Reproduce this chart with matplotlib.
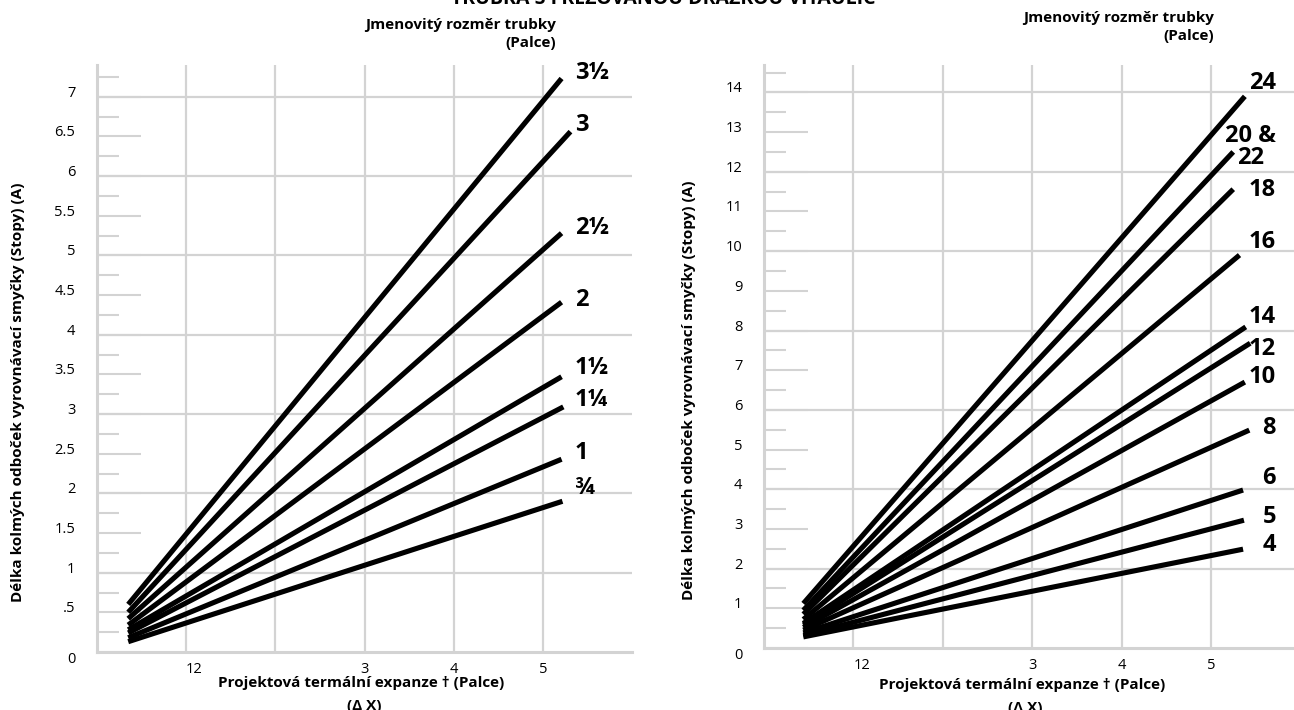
import matplotlib
matplotlib.use('Agg')
import matplotlib.pyplot as plt

plt.rcParams['font.family'] = ['Open Sans', 'DejaVu Sans']

GRID = '#d3d3d3'

# left chart: nominal sizes 3/4" .. 3 1/2" (delta X in, A in ft)
SMALL_SIZES = ['¾', '1', '1¼', '1½', '2', '2½', '3', '3½']
SMALL_X0 = [0.35, 0.35, 0.35, 0.35, 0.35, 0.35, 0.35, 0.35]
SMALL_A0 = [0.13, 0.18, 0.24, 0.28, 0.34, 0.42, 0.50, 0.60]
SMALL_X1 = [5.22, 5.21, 5.23, 5.21, 5.21, 5.21, 5.31, 5.21]
SMALL_A1 = [1.90, 2.43, 3.09, 3.47, 4.41, 5.28, 6.56, 7.23]
SMALL_YTICKS = [0, 0.5, 1, 1.5, 2, 2.5, 3, 3.5, 4, 4.5, 5, 5.5, 6, 6.5, 7]
SMALL_YLABELS = ['0', '.5', '1', '1.5', '2', '2.5', '3', '3.5', '4', '4.5',
                 '5', '5.5', '6', '6.5', '7']

# right chart: nominal sizes 4" .. 24"
LARGE_SIZES = ['4', '5', '6', '8', '10', '12', '14', '16', '18', '20 &\n22', '24']
LARGE_X0 = [0.44, 0.44, 0.44, 0.44, 0.44, 0.44, 0.44, 0.44, 0.44, 0.44, 0.44]
LARGE_A0 = [0.28, 0.32, 0.38, 0.45, 0.52, 0.58, 0.62, 0.72, 0.85, 0.95, 1.12]
LARGE_X1 = [5.36, 5.37, 5.36, 5.43, 5.38, 5.44, 5.39, 5.32, 5.25, 5.25, 5.38]
LARGE_A1 = [2.49, 3.22, 3.98, 5.49, 6.70, 7.68, 8.09, 9.90, 11.56, 12.50, 13.90]
LARGE_YTICKS = list(range(0, 15))
LARGE_YLABELS = [str(v) for v in LARGE_YTICKS]

X_TICKS = [1, 3, 4, 5]
X_TICK_LABELS = ['12', '3', '4', '5']

# label nudges (points, up positive)
SMALL_LABEL_DY = [9.4, 4.3, 5.0, 6.5, 1.4, 3.6, 5.0, 4.3]
LARGE_LABEL_DY = [2.9, 2.2, 8.6, 1.4, 3.6, -4.3, 7.2, 9.4, -0.7, 3.6, 9.4]

XLABEL = 'Projektová termální expanze † (Palce)'
YLABEL = 'Délka kolmých odboček vyrovnávací smyčky (Stopy) (A)'
HEADER = 'Jmenovitý rozměr trubky\n(Palce)'
TITLE = 'TRUBKA S FRÉZOVANOU DRÁŽKOU VITAULIC'


def style_axes(ax, xmax, ymax, yticks, ylabels, minor, hgrid, xpad):
    ax.set_xlim(0, xmax)
    ax.set_ylim(0, ymax)
    for s in ['top', 'right']:
        ax.spines[s].set_visible(False)
    for s in ['left', 'bottom']:
        ax.spines[s].set_color(GRID)
        ax.spines[s].set_linewidth(2.2)
    for v in hgrid:
        ax.axhline(v, color=GRID, lw=1.6, zorder=0)
    for v in range(1, 6):
        ax.axvline(v, color=GRID, lw=1.6, zorder=0)
    ax.set_yticks(yticks)
    ax.set_yticklabels(ylabels)
    ax.set_yticks(minor, minor=True)
    ax.tick_params(axis='y', which='major', direction='in', length=31.7,
                   width=1.5, color=GRID, pad=15.5, labelsize=10.5)
    ax.tick_params(axis='y', which='minor', direction='in', length=15.8,
                   width=1.5, color=GRID)
    for i, lab in enumerate(ax.get_yticklabels()):
        lab.set_va('top' if i == 0 else 'baseline')
    ax.set_xticks(X_TICKS)
    ax.set_xticklabels(X_TICK_LABELS)
    ax.tick_params(axis='x', length=0, pad=xpad, labelsize=10.5)
    ax.get_xticklabels()[0].set_ha('left')


def draw_lines(ax, x0, a0, x1, a1, sizes, dys, label_x, ha):
    for i in range(len(sizes)):
        ax.plot([x0[i], x1[i]], [a0[i], a1[i]], color='black', lw=3.7,
                solid_capstyle='butt', zorder=3)
        ax.annotate(sizes[i], xy=(label_x, a1[i]), xytext=(0, dys[i]),
                    textcoords='offset points', ha=ha, va='center',
                    multialignment='center', fontsize=17, fontweight='bold',
                    linespacing=0.85, annotation_clip=False)


def main():
    fig = plt.figure(figsize=(12.94, 7.10), dpi=100)

    ax1 = fig.add_axes([97 / 1294, 58 / 710, 535 / 1294, 587 / 710])
    style_axes(ax1, 6.0, 7.40, SMALL_YTICKS, SMALL_YLABELS,
               [0.25 + 0.5 * k for k in range(15)], range(1, 8), 7.5)
    draw_lines(ax1, SMALL_X0, SMALL_A0, SMALL_X1, SMALL_A1, SMALL_SIZES,
               SMALL_LABEL_DY, 5.36, 'left')

    ax2 = fig.add_axes([764 / 1294, 62 / 710, 530 / 1294, 583 / 710])
    style_axes(ax2, 5.93, 14.69, LARGE_YTICKS, LARGE_YLABELS,
               [0.5 + k for k in range(15)], range(2, 15, 2), 7)
    draw_lines(ax2, LARGE_X0, LARGE_A0, LARGE_X1, LARGE_A1, LARGE_SIZES,
               LARGE_LABEL_DY, 5.73, 'right')

    # texts placed in figure pixels
    def ft(x, y, s, **kw):
        fig.text(x / 1294, 1 - y / 710, s, fontweight='bold', **kw)

    ft(663, 4, TITLE, ha='center', va='baseline', fontsize=14)
    ft(556, 34, HEADER, ha='right', va='center', multialignment='right',
       fontsize=11, linespacing=1.3)
    ft(1214, 27, HEADER, ha='right', va='center', multialignment='right',
       fontsize=11, linespacing=1.35)
    for cx, cy in [(361, 683), (1022, 685)]:
        ft(cx, cy, XLABEL, ha='center', va='center', fontsize=11)
        ft(cx + 3, cy + 23, '(Δ X)', ha='center', va='center', fontsize=11)
    ft(18, 392, YLABEL, ha='center', va='center', rotation=90, fontsize=11)
    ft(689, 390, YLABEL, ha='center', va='center', rotation=90, fontsize=11)

    fig.savefig('out.png', dpi=100)
    plt.close(fig)


if __name__ == '__main__':
    main()
